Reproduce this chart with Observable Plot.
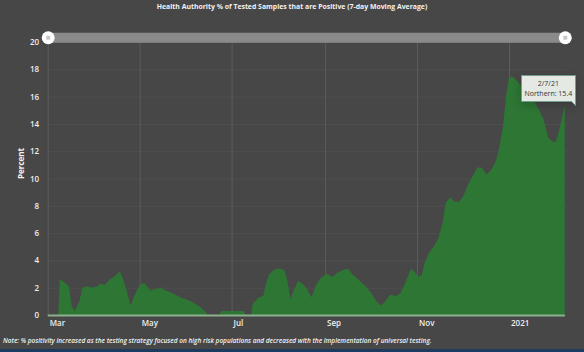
<!DOCTYPE html>
<html>
<head>
<meta charset="utf-8">
<script src="https://cdn.jsdelivr.net/npm/d3@7"></script>
<script src="https://cdn.jsdelivr.net/npm/@observablehq/plot@0.6"></script>
<style>
  html, body { margin: 0; padding: 0; background: #474747; }
  #wrap { position: relative; width: 584px; height: 352px; overflow: hidden; background: #474747; }
  #title { position: absolute; top: 2px; left: 0; width: 584px; text-align: center;
           font: bold 6.9px "Open Sans", sans-serif; color: #f2f2f2; }
  #chart { position: absolute; top: 0; left: 0; }
  #note { position: absolute; top: 336px; left: 3px; font: italic 600 6.5px "Open Sans", sans-serif; color: #f2f2f2; white-space: nowrap; }
  #strip { position: absolute; left: 0; bottom: 0; width: 584px; height: 3px; background: #1d3b5e; }
</style>
</head>
<body>
<div id="wrap">
  <div id="chart"></div>
  <div id="title">Health Authority % of Tested Samples that are Positive (7-day Moving Average)</div>
  <div id="note">Note: % positivity increased as the testing strategy focused on high risk populations and decreased with the implementation of universal testing.</div>
  <div id="strip"></div>
</div>
<script>
const dates = [
  "2020-03-08","2020-03-09","2020-03-11","2020-03-13","2020-03-15","2020-03-17","2020-03-19","2020-03-22","2020-03-24","2020-03-27",
  "2020-03-30","2020-04-03","2020-04-05","2020-04-08","2020-04-11","2020-04-14","2020-04-18","2020-04-21","2020-04-25","2020-04-27",
  "2020-05-01","2020-05-04","2020-05-08","2020-05-11","2020-05-15","2020-05-18","2020-05-23","2020-05-28","2020-06-04","2020-06-10",
  "2020-06-14","2020-06-15","2020-06-23","2020-06-24","2020-07-09","2020-07-10","2020-07-14","2020-07-15","2020-07-19","2020-07-22",
  "2020-07-24","2020-07-26","2020-07-29","2020-08-01","2020-08-05","2020-08-07","2020-08-09","2020-08-12","2020-08-14","2020-08-17",
  "2020-08-20","2020-08-23","2020-08-26","2020-08-29","2020-09-02","2020-09-06","2020-09-09","2020-09-13","2020-09-16","2020-09-19",
  "2020-09-23","2020-09-27","2020-10-01","2020-10-05","2020-10-08","2020-10-11","2020-10-14","2020-10-18","2020-10-21","2020-10-24",
  "2020-10-28","2020-10-30","2020-11-02","2020-11-04","2020-11-06","2020-11-09","2020-11-12","2020-11-15","2020-11-18","2020-11-20",
  "2020-11-23","2020-11-26","2020-11-29","2020-12-02","2020-12-05","2020-12-08","2020-12-11","2020-12-14","2020-12-17","2020-12-20",
  "2020-12-23","2020-12-25","2020-12-28","2020-12-30","2021-01-01","2021-01-03","2021-01-06","2021-01-09","2021-01-12","2021-01-15",
  "2021-01-18","2021-01-21","2021-01-24","2021-01-27","2021-01-30","2021-02-01","2021-02-03","2021-02-05","2021-02-07"
];
const values = [
  0, 2.6, 2.5, 2.3, 2.1, 0.6, 0.3, 1.0, 2.0, 2.1,
  2.0, 2.1, 2.3, 2.2, 2.6, 2.8, 3.2, 2.3, 0.7, 1.3,
  2.2, 2.35, 1.8, 1.9, 2.0, 1.8, 1.6, 1.3, 1.0, 0.6,
  0.2, 0, 0, 0.3, 0.3, 0, 0, 0.8, 1.3, 1.4,
  2.4, 3.0, 3.3, 3.4, 3.3, 2.5, 1.2, 2.0, 2.5, 2.3,
  1.9, 1.3, 2.2, 2.7, 3.0, 2.8, 3.1, 3.3, 3.4, 3.0,
  2.6, 2.2, 1.7, 1.0, 0.7, 1.0, 1.5, 1.4, 1.6, 2.3,
  3.4, 3.2, 2.8, 2.9, 3.8, 4.6, 5.0, 5.6, 6.8, 8.2,
  8.6, 8.3, 8.3, 8.8, 9.6, 10.2, 10.8, 10.8, 10.3, 10.6,
  11.2, 12.0, 13.8, 16.0, 17.4, 17.5, 17.2, 16.8, 16.6, 16.2,
  15.6, 15.0, 14.3, 13.0, 12.7, 12.7, 13.4, 14.4, 15.4
];
const xTickDates = ["2020-03-01","2020-05-01","2020-07-01","2020-09-01","2020-11-01","2021-01-01"];
const xTickLabels = ["Mar","May","Jul","Sep","Nov","2021"];
const yTicks = [0, 2, 4, 6, 8, 10, 12, 14, 16, 18, 20];
const domainDates = ["2020-03-01", "2021-02-09"];
const sliderRange = ["2020-03-01", "2021-02-07"];
const tipDate = "2021-02-07";
const tipLabel = "2/7/21";
const tipSeries = "Northern";
const tipValue = 15.4;

const data = dates.map((d, i) => ({date: new Date(d), value: values[i]}));
const ticks = xTickDates.map(d => new Date(d));
const sliderDates = sliderRange.map(d => new Date(d));
const sliderY = 20.35;

const chart = Plot.plot({
  width: 584,
  height: 352,
  marginLeft: 47.7,
  marginRight: 16.2,
  marginTop: 42,
  marginBottom: 37,
  style: {background: "transparent", color: "#333", fontFamily: "Open Sans, sans-serif", fontSize: "8px", overflow: "visible"},
  x: {type: "utc", domain: domainDates.map(d => new Date(d)), label: null},
  y: {domain: [0, 20], label: null},
  marks: [
    Plot.gridY(yTicks, {stroke: "#4f4f4f", strokeOpacity: 1}),
    Plot.gridX(ticks, {stroke: "#5c5c5c", strokeOpacity: 1}),
    Plot.areaY(data, {x: "date", y: "value", fill: "#2d7634", curve: "linear"}),
    Plot.ruleY([0], {x1: sliderDates[0], x2: sliderDates[1], stroke: "#8db08d", strokeWidth: 2}),
    Plot.axisX(ticks, {tickSize: 0, tickPadding: 5, textAnchor: "start", dx: 1.5, color: "#eeeeee", fontWeight: 600,
      tickFormat: (d, i) => xTickLabels[i], label: null}),
    Plot.axisY(yTicks, {tickSize: 0, tickPadding: 9, color: "#eeeeee", fontWeight: 600, label: null}),
    Plot.text(["Percent"], {frameAnchor: "left", rotate: -90, dx: -27, fill: "#f2f2f2", fontWeight: "bold", fontSize: 8}),
    Plot.ruleY([sliderY], {x1: sliderDates[0], x2: sliderDates[1], stroke: "#8a8a8a", strokeWidth: 10}),
    Plot.dot(sliderDates, {x: d => d, y: () => sliderY, r: 6.5, fill: "#ffffff"}),
    Plot.dot(sliderDates, {x: d => d, y: () => sliderY, symbol: "square", r: 2.2, fill: "#c8c8c8"}),
    Plot.tip([{date: new Date(tipDate), value: tipValue}], {
      x: "date", y: "value",
      title: d => `${tipLabel}\n${tipSeries}: ${tipValue}`,
      anchor: "bottom-right", dx: 10, textAnchor: "middle",
      fill: "#e4e9e4", stroke: "#6f9d92", fontSize: 7, textPadding: 3, lineHeight: 1.5, pointerSize: 4
    })
  ]
});
document.getElementById("chart").appendChild(chart);
</script>
</body>
</html>
